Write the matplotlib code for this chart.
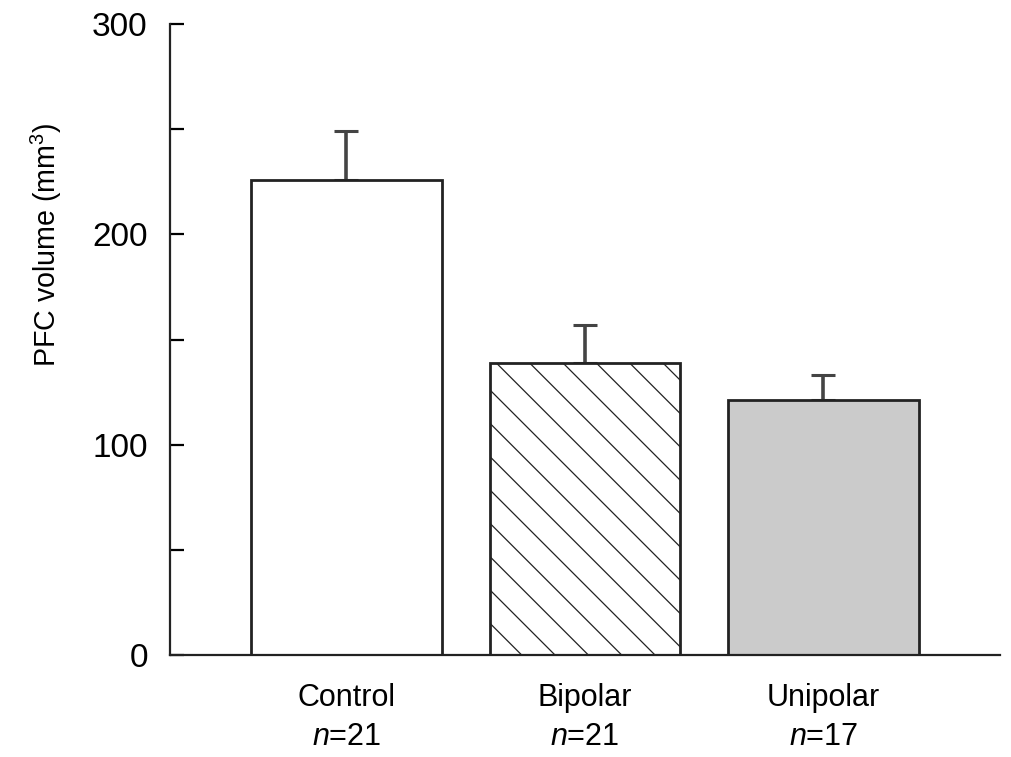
import matplotlib
matplotlib.use("Agg")
import matplotlib.pyplot as plt

plt.rcParams['font.family'] = ['Liberation Sans', 'DejaVu Sans']
plt.rcParams['mathtext.fontset'] = 'custom'
plt.rcParams['mathtext.it'] = 'Liberation Sans:italic'
plt.rcParams['mathtext.rm'] = 'Liberation Sans'
plt.rcParams['hatch.linewidth'] = 0.45
plt.rcParams['hatch.color'] = '#555555'

# Data
groups = ["Control", "Bipolar", "Unipolar"]
n_values = [21, 21, 17]
means = [226, 139, 121]
sem = [23, 18, 12]

fill_colors = ["white", "white", "#cbcbcb"]
hatches = ["", "\\\\", ""]

fig = plt.figure(figsize=(5.06, 3.785), dpi=200)
ax = fig.add_axes([0.168, 0.135, 0.82, 0.833])

x = range(len(groups))
bars = ax.bar(x, means, width=0.8, color=fill_colors, edgecolor="#222222",
              linewidth=1.0, zorder=2)
for b, h in zip(bars, hatches):
    b.set_hatch(h)

# only the upper half of the error bar is shown
ax.errorbar(x, means, yerr=[[0] * len(sem), sem], fmt="none",
            ecolor="#444444", elinewidth=1.3, capsize=4.2, capthick=1.1, zorder=1)

ax.set_xlim(-0.74, 2.74)
ax.set_ylim(0, 300)
ax.set_yticks(range(0, 301, 50))
ax.set_yticklabels([str(v) if v % 100 == 0 else "" for v in range(0, 301, 50)])
ax.tick_params(axis="y", direction="in", length=5, width=0.8, pad=8, labelsize=12)

labels = [f"{g}\n$\\mathit{{n}}$={n}" for g, n in zip(groups, n_values)]
ax.set_xticks(list(x))
ax.set_xticklabels(labels, fontsize=11, linespacing=1.4)
ax.tick_params(axis="x", length=0, pad=10)

ax.set_ylabel("PFC volume (mm$^3$)", fontsize=10.3)
ax.yaxis.set_label_coords(-0.128, 0.65)

for s in ["top", "right"]:
    ax.spines[s].set_visible(False)
for s in ["left", "bottom"]:
    ax.spines[s].set_linewidth(0.8)
    ax.spines[s].set_color("#222222")

fig.savefig("out.png", dpi=200)
